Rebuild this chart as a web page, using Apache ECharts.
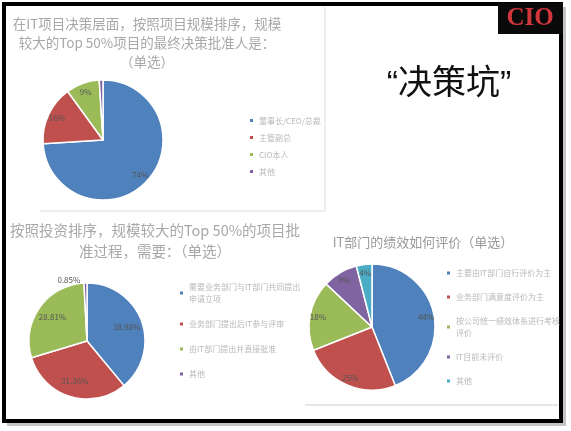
<!DOCTYPE html>
<html>
<head>
<meta charset="utf-8">
<script src="https://cdn.jsdelivr.net/npm/echarts@6/dist/echarts.min.js"></script>
<style>
html, body { margin: 0; padding: 0; background: #fff; }
#main { width: 571px; height: 431px; }
</style>
</head>
<body>
<div id="main"></div>
<script>
// 问题一：最终决策批准人
var q1Names = ['董事长/CEO/总裁', '主管副总', 'CIO本人', '其他'];
var q1Values = [74, 16, 9, 1];
// 问题二：项目批准过程
var q2Names = ['需要业务部门与IT部门共同提出\n申请立项', '业务部门提出后IT参与评审', '由IT部门提出并直接批准', '其他'];
var q2Values = [38.98, 31.36, 28.81, 0.85];
// 问题三：IT部门绩效评价
var q3Names = ['主要由IT部门自行评价为主', '业务部门满意度评价为主', '按公司统一绩效体系进行考核\n评价', 'IT目前未评价', '其他'];
var q3Values = [44, 25, 18, 9, 4];

var colors = ['#4F81BD', '#C0504D', '#9BBB59', '#8064A2', '#4BACC6'];
var cjk = "'Noto Sans CJK SC', sans-serif";

var chart = echarts.init(document.getElementById('main'));

// 饼图本体 + 一层透明的饼用来放标签（标签离圆心更远一点）
function piePair(names, values, center, r, labelScale, outsideIdx, hideIdx) {
    var base = {
        type: 'pie',
        center: center,
        radius: [0, r],
        startAngle: 90,
        clockwise: true,
        itemStyle: { borderColor: '#fff', borderWidth: 1.5 },
        label: { show: false },
        labelLine: { show: false, length: 3, length2: 0 },
        emphasis: { disabled: true },
        data: names.map(function (n, i) {
            var d = { name: n, value: values[i], itemStyle: { color: colors[i] } };
            if (i === outsideIdx) {
                d.label = { show: true, position: 'outside', formatter: '{c}%', fontSize: 8, color: '#555' };
            }
            return d;
        })
    };
    var labels = {
        type: 'pie',
        center: center,
        radius: [0, r * labelScale],
        startAngle: 90,
        clockwise: true,
        silent: true,
        z: 3,
        itemStyle: { color: 'rgba(0,0,0,0)', borderWidth: 0 },
        label: { show: true, position: 'inside', formatter: '{c}%', fontSize: 8, color: '#555' },
        labelLine: { show: false },
        emphasis: { disabled: true },
        data: names.map(function (n, i) {
            var d = { name: n, value: values[i] };
            if (i === outsideIdx || i === hideIdx) d.label = { show: false };
            return d;
        })
    };
    return [base, labels];
}

function legendData(names) {
    return names.map(function (n, i) {
        return { name: n, icon: 'rect', itemStyle: { color: colors[i] } };
    });
}

function legendBox(names, left, top, gap, lh) {
    return {
        orient: 'vertical',
        left: left,
        top: top,
        itemWidth: 5,
        itemHeight: 5,
        itemGap: gap,
        selectedMode: false,
        data: legendData(names),
        textStyle: { fontSize: 8, lineHeight: lh, color: '#b8b8b8', fontFamily: cjk }
    };
}

var series = []
    .concat(piePair(q1Names, q1Values, [103, 140], 60, 1.6, -1, 3))
    .concat(piePair(q2Names, q2Values, [87, 341], 58, 1.35, 3, -1))
    .concat(piePair(q3Names, q3Values, [372, 327], 63, 1.65, -1, -1));

var option = {
    animation: false,
    textStyle: { fontFamily: cjk },
    legend: [
        legendBox(q1Names, 243, 110, 6, 11),
        legendBox(q2Names, 173, 276, 13, 12),
        legendBox(q3Names, 440, 262, 12, 12)
    ],
    graphic: [
        // 幻灯片边框
        { type: 'rect', z: -10, shape: { x: 7, y: 7, width: 559, height: 419 }, style: { fill: '#c4c4c4' } },
        { type: 'rect', z: -9, shape: { x: 4, y: 4, width: 557, height: 417 }, style: { fill: '#fff', stroke: '#000', lineWidth: 4 } },
        { type: 'line', z: -8, shape: { x1: 325, y1: 7, x2: 325, y2: 211 }, style: { stroke: '#dcdcdc', lineWidth: 1 } },
        { type: 'line', z: -8, shape: { x1: 40, y1: 211, x2: 325, y2: 211 }, style: { stroke: '#dcdcdc', lineWidth: 1 } },
        { type: 'line', z: -8, shape: { x1: 305, y1: 405, x2: 558, y2: 405 }, style: { stroke: '#cfcfcf', lineWidth: 1 } },
        // 标题
        {
            type: 'text', x: 147, y: 14,
            style: {
                text: '在IT项目决策层面，按照项目规模排序，规模\n较大的Top 50%项目的最终决策批准人是：\n（单选）',
                align: 'center', fontSize: 13.5, lineHeight: 19, fontFamily: cjk, fill: '#a8a8a8'
            }
        },
        {
            type: 'text', x: 155, y: 220,
            style: {
                text: '按照投资排序，规模较大的Top 50%的项目批\n准过程，需要：（单选）',
                align: 'center', fontSize: 14.5, lineHeight: 21, fontFamily: cjk, fill: '#a8a8a8'
            }
        },
        {
            type: 'text', x: 423, y: 233,
            style: {
                text: 'IT部门的绩效如何评价（单选）',
                align: 'center', fontSize: 13, lineHeight: 18, fontFamily: cjk, fill: '#999'
            }
        },
        // “决策坑”
        {
            type: 'text', x: 449, y: 85,
            style: {
                text: '“决策坑”', align: 'center', verticalAlign: 'middle',
                fontSize: 34, fontFamily: "'Liberation Sans', 'Noto Sans CJK SC', sans-serif", fill: '#111'
            }
        },
        // CIO 标志
        { type: 'rect', shape: { x: 498, y: 3, width: 65, height: 31 }, style: { fill: '#0a0a0a' } },
        {
            type: 'text', x: 530, y: 19,
            style: {
                text: 'CIO', align: 'center', verticalAlign: 'middle',
                fontSize: 25, fontWeight: 'bold', fontFamily: "'Liberation Serif', serif", fill: '#d0373c'
            }
        }
    ],
    series: series
};

chart.setOption(option);
</script>
</body>
</html>
